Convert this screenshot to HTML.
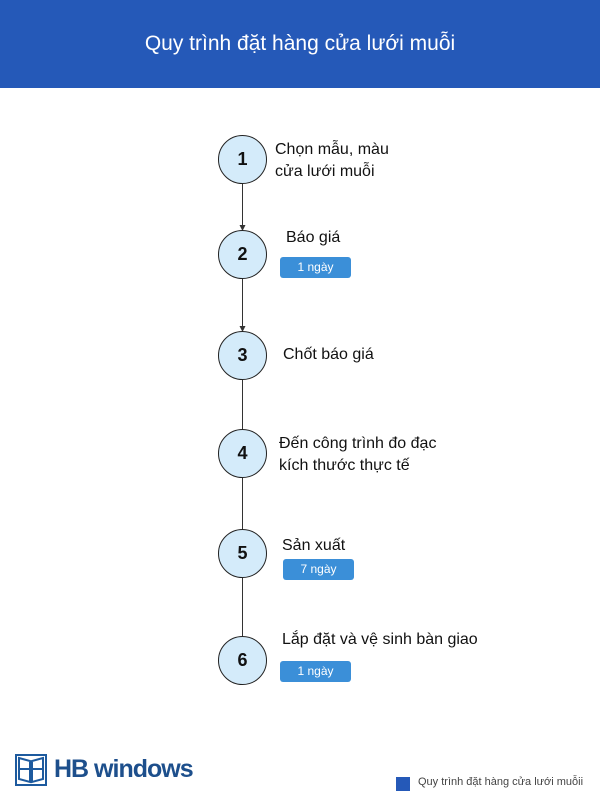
<!DOCTYPE html>
<html><head><meta charset="utf-8"><style>
body{margin:0;width:600px;height:800px;background:#fff;position:relative;font-family:"Liberation Sans","Noto Sans CJK SC",sans-serif;overflow:hidden}
.hd{position:absolute;left:0;top:0;width:600px;height:88px;background:#2559b8;color:#fff;font-size:21px;text-align:center;line-height:88px}
.c{position:absolute;width:47px;height:47px;border:1.5px solid #222;border-radius:50%;background:#d4ebfa;text-align:center;line-height:47px;font-size:18px;font-weight:bold;color:#111;left:218px}
.t{position:absolute;font-size:16px;color:#111;line-height:22px}
.b{position:absolute;background:#3b8fd8;color:#fff;font-size:12px;text-align:center;border-radius:3px;width:71px;height:21px;line-height:21px}
.ln{position:absolute;left:242px;width:1px;background:#333}
</style></head><body>
<div class="hd">Quy trình đặt hàng cửa lưới muỗi</div>
<div class="ln" style="top:183px;height:48px"></div>
<div class="ln" style="top:278px;height:54px"></div>
<div class="ln" style="top:380px;height:50px"></div>
<div class="ln" style="top:478px;height:52px"></div>
<div class="ln" style="top:578px;height:58px"></div>
<svg style="position:absolute;left:0;top:0" width="600" height="800"><path d="M239.5 225 L245.5 225 L242.5 231Z M239.5 326 L245.5 326 L242.5 332Z" fill="#333"/></svg>
<div class="c" style="top:135px">1</div>
<div class="c" style="top:230px">2</div>
<div class="c" style="top:331px">3</div>
<div class="c" style="top:429px">4</div>
<div class="c" style="top:529px">5</div>
<div class="c" style="top:636px">6</div>
<div class="t" style="left:275px;top:139px">Chọn mẫu, màu<br>cửa lưới muỗi</div>
<div class="t" style="left:286px;top:227px">Báo giá</div>
<div class="b" style="left:280px;top:257px">1 ngày</div>
<div class="t" style="left:283px;top:344px">Chốt báo giá</div>
<div class="t" style="left:279px;top:433px">Đến công trình đo đạc<br>kích thước thực tế</div>
<div class="t" style="left:282px;top:535px">Sản xuất</div>
<div class="b" style="left:283px;top:559px">7 ngày</div>
<div class="t" style="left:282px;top:629px">Lắp đặt và vệ sinh bàn giao</div>
<div class="b" style="left:280px;top:661px">1 ngày</div>
<svg style="position:absolute;left:15px;top:754px" width="32" height="32"><rect x="1" y="1" width="30" height="30" fill="none" stroke="#1d5a9e" stroke-width="2"/><path d="M4 4 L15 7 L15 28 L4 25Z M28 4 L17 7 L17 28 L28 25Z M4 15 H15 M17 15 H28" fill="none" stroke="#1d5a9e" stroke-width="2"/></svg>
<div style="position:absolute;left:54px;top:755px;font-size:25px;font-weight:bold;color:#1d4f8c;letter-spacing:-1px">HB windows</div>
<div style="position:absolute;left:396px;top:777px;width:14px;height:14px;background:#2559b8"></div>
<div style="position:absolute;left:418px;top:776px;font-size:11px;color:#444">Quy trình đặt hàng cửa lưới muỗii</div>
</body></html>
